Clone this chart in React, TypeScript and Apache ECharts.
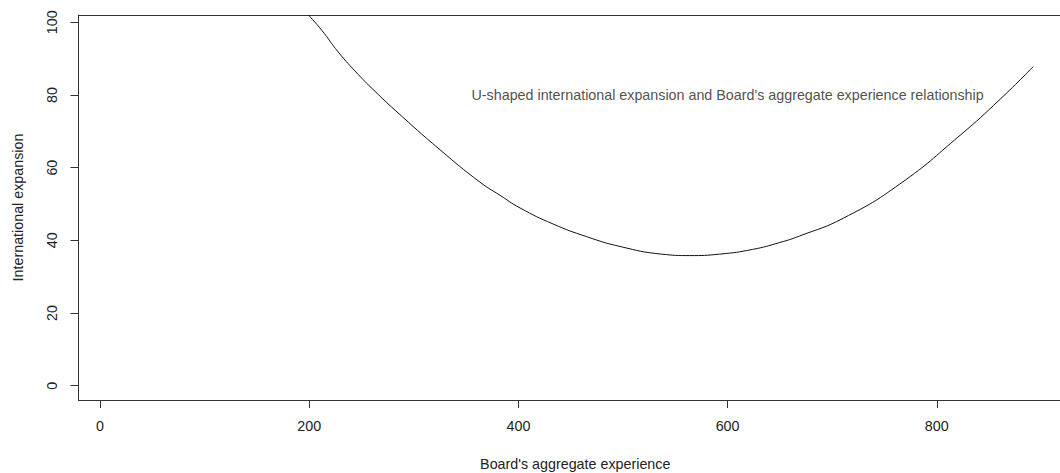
import React, { useEffect, useRef } from "react";
import * as echarts from "echarts";

const curveX = [199.2, 212.0, 227.8, 247.0, 262.9, 282.1, 325.1, 363.3, 382.4, 401.6, 433.1, 465.3, 497.2, 537.0, 563.8, 592.5, 624.0, 649.9, 669.0, 710.7, 764.7, 822.3, 860.5, 892.3];
const curveY = [102.0, 97.8, 91.8, 85.6, 81.0, 75.8, 64.9, 56.0, 52.4, 48.9, 44.5, 41.0, 38.3, 36.2, 35.8, 36.2, 37.5, 39.4, 41.2, 46.1, 55.5, 68.9, 78.8, 87.8];
const xTicks = [0, 200, 400, 600, 800];
const yTicks = [0, 20, 40, 60, 80, 100];
const xRange = [-20.6, 929.3];
const yRange = [-3.94, 102.0];
const annotation = { x: 600, y: 80, text: "U-shaped international expansion and Board's aggregate experience relationship" };
const xName = "Board's aggregate experience";
const yName = "International expansion";

export default function App() {
  const ref = useRef<HTMLDivElement>(null);
  useEffect(() => {
    if (!ref.current) return;
    const chart = echarts.init(ref.current, null, { renderer: "svg" });
    const font = "Liberation Sans, Arial, sans-serif";
    const textColor = "#222";
    const lineColor = "#333";
    const fs = 14.3;
    chart.setOption({
      animation: false,
      backgroundColor: "#fff",
      textStyle: { fontFamily: font },
      grid: {
        left: 78.5,
        top: 15,
        width: 1072 - 78.5,
        height: 400 - 15,
        show: false,
        containLabel: false,
        outerBoundsMode: "none",
      },
      xAxis: [
        {
          type: "value",
          position: "bottom",
          min: xRange[0],
          max: xRange[1],
          name: xName,
          nameLocation: "middle",
          nameGap: 57,
          nameTextStyle: { fontSize: fs, color: textColor, fontFamily: font },
          axisLine: { show: true, onZero: false, lineStyle: { color: lineColor, width: 1 } },
          splitLine: { show: false },
          axisTick: { show: true, inside: false, length: 8, customValues: xTicks, lineStyle: { color: lineColor, width: 1 } },
          axisLabel: { customValues: xTicks, fontSize: fs, color: textColor, margin: 19, fontFamily: font },
        },
        {
          type: "value",
          position: "top",
          min: xRange[0],
          max: xRange[1],
          axisLine: { show: true, onZero: false, lineStyle: { color: lineColor, width: 1 } },
          splitLine: { show: false },
          axisTick: { show: false },
          axisLabel: { show: false },
        },
      ],
      yAxis: {
        type: "value",
        min: yRange[0],
        max: yRange[1],
        name: yName,
        nameLocation: "middle",
        nameGap: 54,
        nameTextStyle: { fontSize: fs, color: textColor, fontFamily: font },
        axisLine: { show: true, onZero: false, lineStyle: { color: lineColor, width: 1 } },
        splitLine: { show: false },
        axisTick: { show: true, inside: false, length: 8, customValues: yTicks, lineStyle: { color: lineColor, width: 1 } },
        axisLabel: { customValues: yTicks, fontSize: fs, color: textColor, margin: 20, rotate: 90, fontFamily: font },
      },
      series: [
        {
          type: "line",
          data: curveX.map((x, i) => [x, curveY[i]]),
          smooth: true,
          showSymbol: false,
          symbol: "none",
          lineStyle: { color: "#111", width: 1 },
        },
        {
          type: "scatter",
          data: [[annotation.x, annotation.y]],
          symbolSize: 0,
          silent: true,
          label: {
            show: true,
            position: "inside",
            formatter: annotation.text,
            fontSize: fs,
            color: textColor,
            fontFamily: font,
          },
        },
      ],
    });
    return () => chart.dispose();
  }, []);
  return (
    <div style={{ position: "absolute", left: 0, top: 0, width: 1060, height: 473, overflow: "hidden" }}>
      <div ref={ref} style={{ width: 1080, height: 473 }} />
    </div>
  );
}
